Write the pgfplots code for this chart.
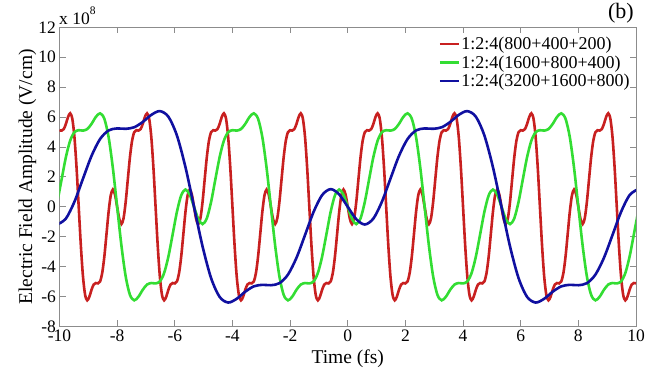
\documentclass[border=0pt]{standalone}
\usepackage{fontspec}
\setmainfont{Liberation Serif}
\usepackage{pgfplots}
\usepackage{pgfplotstable}
\pgfplotsset{compat=1.18}
\definecolor{cred}{RGB}{200,32,32}
\definecolor{cgreen}{RGB}{51,221,51}
\definecolor{cblue}{RGB}{16,16,160}
\definecolor{axgray}{RGB}{140,140,140}
\begin{document}
\pgfplotstableread{
t y
-10.0000 5.120
-9.9259 5.095
-9.8519 5.196
-9.7778 5.543
-9.7037 6.005
-9.6296 6.250
-9.5556 5.886
-9.4815 4.657
-9.4074 2.587
-9.3333 0
-9.2593 -2.587
-9.1852 -4.657
-9.1111 -5.886
-9.0370 -6.250
-8.9630 -6.005
-8.8889 -5.543
-8.8148 -5.196
-8.7407 -5.095
-8.6667 -5.120
-8.5926 -4.989
-8.5185 -4.426
-8.4444 -3.326
-8.3704 -1.839
-8.2963 -0.332
-8.2222 0.766
-8.1481 1.155
-8.0741 0.809
-8.0000 0
-7.9259 -0.809
-7.8519 -1.155
-7.7778 -0.766
-7.7037 0.332
-7.6296 1.839
-7.5556 3.326
-7.4815 4.426
-7.4074 4.989
-7.3333 5.120
-7.2593 5.095
-7.1852 5.196
-7.1111 5.543
-7.0370 6.005
-6.9630 6.250
-6.8889 5.886
-6.8148 4.657
-6.7407 2.587
-6.6667 0
-6.5926 -2.587
-6.5185 -4.657
-6.4444 -5.886
-6.3704 -6.250
-6.2963 -6.005
-6.2222 -5.543
-6.1481 -5.196
-6.0741 -5.095
-6.0000 -5.120
-5.9259 -4.989
-5.8519 -4.426
-5.7778 -3.326
-5.7037 -1.839
-5.6296 -0.332
-5.5556 0.766
-5.4815 1.155
-5.4074 0.809
-5.3333 0
-5.2593 -0.809
-5.1852 -1.155
-5.1111 -0.766
-5.0370 0.332
-4.9630 1.839
-4.8889 3.326
-4.8148 4.426
-4.7407 4.989
-4.6667 5.120
-4.5926 5.095
-4.5185 5.196
-4.4444 5.543
-4.3704 6.005
-4.2963 6.250
-4.2222 5.886
-4.1481 4.657
-4.0741 2.587
-4.0000 0
-3.9259 -2.587
-3.8519 -4.657
-3.7778 -5.886
-3.7037 -6.250
-3.6296 -6.005
-3.5556 -5.543
-3.4815 -5.196
-3.4074 -5.095
-3.3333 -5.120
-3.2593 -4.989
-3.1852 -4.426
-3.1111 -3.326
-3.0370 -1.839
-2.9630 -0.332
-2.8889 0.766
-2.8148 1.155
-2.7407 0.809
-2.6667 0
-2.5926 -0.809
-2.5185 -1.155
-2.4444 -0.766
-2.3704 0.332
-2.2963 1.839
-2.2222 3.326
-2.1481 4.426
-2.0741 4.989
-2.0000 5.120
-1.9259 5.095
-1.8519 5.196
-1.7778 5.543
-1.7037 6.005
-1.6296 6.250
-1.5556 5.886
-1.4815 4.657
-1.4074 2.587
-1.3333 0
-1.2593 -2.587
-1.1852 -4.657
-1.1111 -5.886
-1.0370 -6.250
-0.9630 -6.005
-0.8889 -5.543
-0.8148 -5.196
-0.7407 -5.095
-0.6667 -5.120
-0.5926 -4.989
-0.5185 -4.426
-0.4444 -3.326
-0.3704 -1.839
-0.2963 -0.332
-0.2222 0.766
-0.1481 1.155
-0.0741 0.809
0.0000 0
0.0741 -0.809
0.1481 -1.155
0.2222 -0.766
0.2963 0.332
0.3704 1.839
0.4444 3.326
0.5185 4.426
0.5926 4.989
0.6667 5.120
0.7407 5.095
0.8148 5.196
0.8889 5.543
0.9630 6.005
1.0370 6.250
1.1111 5.886
1.1852 4.657
1.2593 2.587
1.3333 0
1.4074 -2.587
1.4815 -4.657
1.5556 -5.886
1.6296 -6.250
1.7037 -6.005
1.7778 -5.543
1.8519 -5.196
1.9259 -5.095
2.0000 -5.120
2.0741 -4.989
2.1481 -4.426
2.2222 -3.326
2.2963 -1.839
2.3704 -0.332
2.4444 0.766
2.5185 1.155
2.5926 0.809
2.6667 0
2.7407 -0.809
2.8148 -1.155
2.8889 -0.766
2.9630 0.332
3.0370 1.839
3.1111 3.326
3.1852 4.426
3.2593 4.989
3.3333 5.120
3.4074 5.095
3.4815 5.196
3.5556 5.543
3.6296 6.005
3.7037 6.250
3.7778 5.886
3.8519 4.657
3.9259 2.587
4.0000 0
4.0741 -2.587
4.1481 -4.657
4.2222 -5.886
4.2963 -6.250
4.3704 -6.005
4.4444 -5.543
4.5185 -5.196
4.5926 -5.095
4.6667 -5.120
4.7407 -4.989
4.8148 -4.426
4.8889 -3.326
4.9630 -1.839
5.0370 -0.332
5.1111 0.766
5.1852 1.155
5.2593 0.809
5.3333 0
5.4074 -0.809
5.4815 -1.155
5.5556 -0.766
5.6296 0.332
5.7037 1.839
5.7778 3.326
5.8519 4.426
5.9259 4.989
6.0000 5.120
6.0741 5.095
6.1481 5.196
6.2222 5.543
6.2963 6.005
6.3704 6.250
6.4444 5.886
6.5185 4.657
6.5926 2.587
6.6667 0
6.7407 -2.587
6.8148 -4.657
6.8889 -5.886
6.9630 -6.250
7.0370 -6.005
7.1111 -5.543
7.1852 -5.196
7.2593 -5.095
7.3333 -5.120
7.4074 -4.989
7.4815 -4.426
7.5556 -3.326
7.6296 -1.839
7.7037 -0.332
7.7778 0.766
7.8519 1.155
7.9259 0.809
8.0000 0
8.0741 -0.809
8.1481 -1.155
8.2222 -0.766
8.2963 0.332
8.3704 1.839
8.4444 3.326
8.5185 4.426
8.5926 4.989
8.6667 5.120
8.7407 5.095
8.8148 5.196
8.8889 5.543
8.9630 6.005
9.0370 6.250
9.1111 5.886
9.1852 4.657
9.2593 2.587
9.3333 0
9.4074 -2.587
9.4815 -4.657
9.5556 -5.886
9.6296 -6.250
9.7037 -6.005
9.7778 -5.543
9.8519 -5.196
9.9259 -5.095
10.0000 -5.120
}\redtab
\pgfplotstableread{
t y
-10.0741 0.332
-9.9259 1.839
-9.7778 3.326
-9.6296 4.426
-9.4815 4.989
-9.3333 5.120
-9.1852 5.095
-9.0370 5.196
-8.8889 5.543
-8.7407 6.005
-8.5926 6.250
-8.4444 5.886
-8.2963 4.657
-8.1481 2.587
-8.0000 0
-7.8519 -2.587
-7.7037 -4.657
-7.5556 -5.886
-7.4074 -6.250
-7.2593 -6.005
-7.1111 -5.543
-6.9630 -5.196
-6.8148 -5.095
-6.6667 -5.120
-6.5185 -4.989
-6.3704 -4.426
-6.2222 -3.326
-6.0741 -1.839
-5.9259 -0.332
-5.7778 0.766
-5.6296 1.155
-5.4815 0.809
-5.3333 0
-5.1852 -0.809
-5.0370 -1.155
-4.8889 -0.766
-4.7407 0.332
-4.5926 1.839
-4.4444 3.326
-4.2963 4.426
-4.1481 4.989
-4.0000 5.120
-3.8519 5.095
-3.7037 5.196
-3.5556 5.543
-3.4074 6.005
-3.2593 6.250
-3.1111 5.886
-2.9630 4.657
-2.8148 2.587
-2.6667 0
-2.5185 -2.587
-2.3704 -4.657
-2.2222 -5.886
-2.0741 -6.250
-1.9259 -6.005
-1.7778 -5.543
-1.6296 -5.196
-1.4815 -5.095
-1.3333 -5.120
-1.1852 -4.989
-1.0370 -4.426
-0.8889 -3.326
-0.7407 -1.839
-0.5926 -0.332
-0.4444 0.766
-0.2963 1.155
-0.1481 0.809
0.0000 0
0.1481 -0.809
0.2963 -1.155
0.4444 -0.766
0.5926 0.332
0.7407 1.839
0.8889 3.326
1.0370 4.426
1.1852 4.989
1.3333 5.120
1.4815 5.095
1.6296 5.196
1.7778 5.543
1.9259 6.005
2.0741 6.250
2.2222 5.886
2.3704 4.657
2.5185 2.587
2.6667 0
2.8148 -2.587
2.9630 -4.657
3.1111 -5.886
3.2593 -6.250
3.4074 -6.005
3.5556 -5.543
3.7037 -5.196
3.8519 -5.095
4.0000 -5.120
4.1481 -4.989
4.2963 -4.426
4.4444 -3.326
4.5926 -1.839
4.7407 -0.332
4.8889 0.766
5.0370 1.155
5.1852 0.809
5.3333 0
5.4815 -0.809
5.6296 -1.155
5.7778 -0.766
5.9259 0.332
6.0741 1.839
6.2222 3.326
6.3704 4.426
6.5185 4.989
6.6667 5.120
6.8148 5.095
6.9630 5.196
7.1111 5.543
7.2593 6.005
7.4074 6.250
7.5556 5.886
7.7037 4.657
7.8519 2.587
8.0000 0
8.1481 -2.587
8.2963 -4.657
8.4444 -5.886
8.5926 -6.250
8.7407 -6.005
8.8889 -5.543
9.0370 -5.196
9.1852 -5.095
9.3333 -5.120
9.4815 -4.989
9.6296 -4.426
9.7778 -3.326
9.9259 -1.839
10.0741 -0.332
}\greentab
\pgfplotstableread{
t y
-10.0741 -1.182
-9.7778 -0.784
-9.4815 0.340
-9.1852 1.882
-8.8889 3.404
-8.5926 4.530
-8.2963 5.106
-8.0000 5.240
-7.7037 5.214
-7.4074 5.318
-7.1111 5.673
-6.8148 6.146
-6.5185 6.397
-6.2222 6.023
-5.9259 4.766
-5.6296 2.648
-5.3333 0
-5.0370 -2.648
-4.7407 -4.766
-4.4444 -6.023
-4.1481 -6.397
-3.8519 -6.146
-3.5556 -5.673
-3.2593 -5.318
-2.9630 -5.214
-2.6667 -5.240
-2.3704 -5.106
-2.0741 -4.530
-1.7778 -3.404
-1.4815 -1.882
-1.1852 -0.340
-0.8889 0.784
-0.5926 1.182
-0.2963 0.828
0.0000 0
0.2963 -0.828
0.5926 -1.182
0.8889 -0.784
1.1852 0.340
1.4815 1.882
1.7778 3.404
2.0741 4.530
2.3704 5.106
2.6667 5.240
2.9630 5.214
3.2593 5.318
3.5556 5.673
3.8519 6.146
4.1481 6.397
4.4444 6.023
4.7407 4.766
5.0370 2.648
5.3333 0
5.6296 -2.648
5.9259 -4.766
6.2222 -6.023
6.5185 -6.397
6.8148 -6.146
7.1111 -5.673
7.4074 -5.318
7.7037 -5.214
8.0000 -5.240
8.2963 -5.106
8.5926 -4.530
8.8889 -3.404
9.1852 -1.882
9.4815 -0.340
9.7778 0.784
10.0741 1.182
}\bluetab
\begin{tikzpicture}
\path[use as bounding box] (0,0) rectangle (663bp,368bp);
\begin{axis}[
  at={(59.5bp,41.5bp)}, anchor=south west,
  width=576.5bp, height=299.2bp, scale only axis,
  xmin=-10, xmax=10, ymin=-8, ymax=12,
  xtick={-10,-8,-6,-4,-2,0,2,4,6,8,10},
  xticklabels={-10,-8,-6,-4,-2,0,2,4,6,8,10},
  ytick={-8,-6,-4,-2,0,2,4,6,8,10,12},
  yticklabels={-8,-6,-4,-2,0,2,4,6,8,10,12},
  tick align=inside, major tick length=6bp,
  axis line style={draw=axgray, line width=0.8bp},
  every tick/.style={draw=axgray, line width=0.8bp},
  tick label style={font=\fontsize{17.5bp}{20bp}\selectfont, text=black},
  xlabel={Time (fs)},
  ylabel={Electric Field Amplitude (V/cm)},
  label style={font=\fontsize{19.5bp}{22bp}\selectfont},
  xlabel style={at={(axis description cs:0.5,-0.1253)}, anchor=base},
  ylabel style={at={(axis description cs:-0.0474,0.5)}, anchor=base},
  legend style={at={(axis description cs:0.992,0.973)}, anchor=north east,
    draw=none, fill=none, font=\fontsize{18bp}{20bp}\selectfont,
    row sep=1.5bp, inner sep=0pt, nodes={inner sep=1.5bp}},
  legend cell align=left,
  legend image code/.code={\draw[#1, line width=2.2bp] (0bp,0bp) -- (19bp,0bp);},
]
\addplot[cred, line width=2.6bp, smooth, no markers] table[x=t,y=y]{\redtab};
\addlegendentry{1:2:4(800+400+200)}
\addplot[cgreen, line width=2.6bp, smooth, no markers] table[x=t,y=y]{\greentab};
\addlegendentry{1:2:4(1600+800+400)}
\addplot[cblue, line width=2.6bp, smooth, no markers] table[x=t,y=y]{\bluetab};
\addlegendentry{1:2:4(3200+1600+800)}
\end{axis}
\node[anchor=base west, inner sep=0pt, font=\fontsize{17.5bp}{20bp}\selectfont] at (59bp,343bp) {x 10\raisebox{10bp}{\fontsize{11.5bp}{12bp}\selectfont 8}};
\node[anchor=base east, inner sep=0pt, font=\fontsize{22bp}{24bp}\selectfont] at (634bp,349.7bp) {(b)};
\end{tikzpicture}
\end{document}
